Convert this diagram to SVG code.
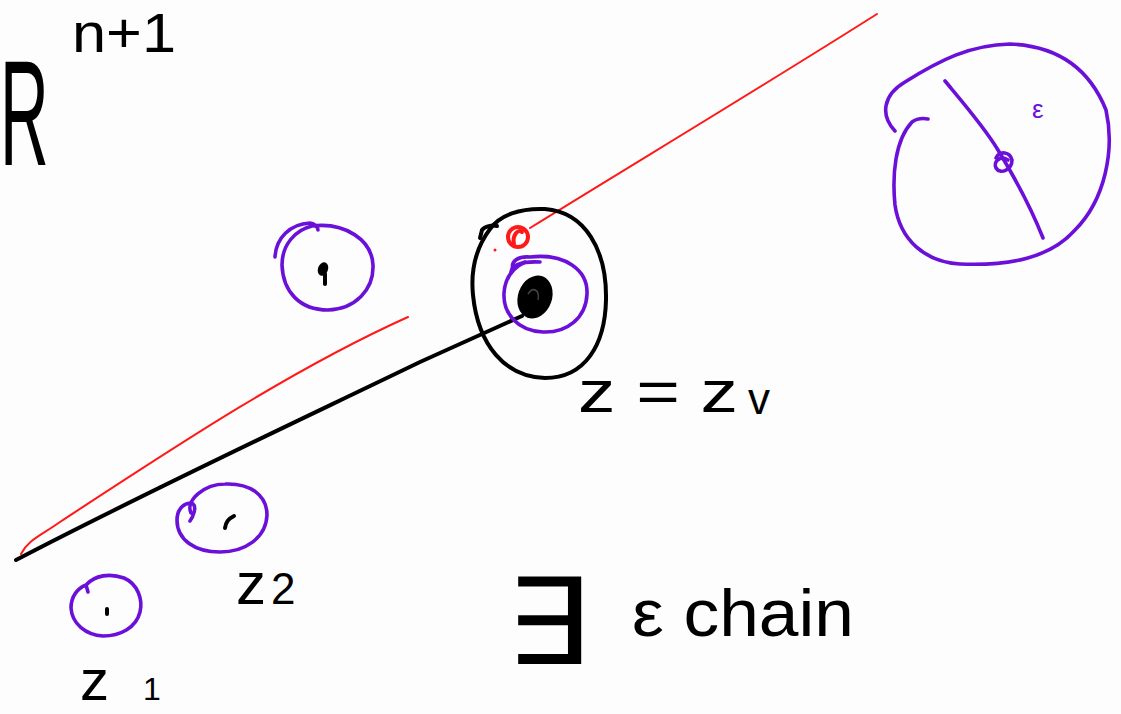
<svg xmlns="http://www.w3.org/2000/svg" width="1121" height="714" viewBox="0 0 1121 714">
<style>
.bg{fill:#fdfdfd}
.ink{fill:none;stroke:#000;stroke-width:4;stroke-linecap:round;stroke-linejoin:round}
.pur{fill:none;stroke:#6a10d8;stroke-width:3.6;stroke-linecap:round;stroke-linejoin:round}
.red{fill:none;stroke:#ff1a1a;stroke-width:2;stroke-linecap:round}
.redb{fill:none;stroke:#ff1a1a;stroke-width:4;stroke-linecap:round}
.dot{fill:#000}
.t{font-family:"Liberation Sans",Arial,sans-serif;fill:#000}
</style>
<rect class="bg" x="0" y="0" width="1121" height="714"/>

<g id="connectors">
  <path class="red" d="M530,228 C640,160 760,88 877,14"/>
  <path class="red" d="M21,554 C28,540 40,536 60,522 C170,450 290,370 408,317"/>
  <path class="ink" d="M16,560 C150,490 300,420 420,362 C460,344 495,328 522,316"/>
</g>

<g id="ball-zv">
  <path class="ink" d="M490,229 C500,215 520,208 545,209 C585,212 607,250 606,300 C605,345 585,378 545,378 C505,377 478,345 473,295 C470,265 478,245 490,229"/>
  <path class="ink" d="M480,238 L482,230 C485,226 492,225 497,226"/>
  <path class="pur" d="M513,270 C510,260 520,256 530,257 C565,253 588,270 587,294 C586,318 567,333 543,332 C518,331 503,314 504,293 C505,278 512,268 525,262"/>
  <path class="pur" d="M511,272 C512,266 520,261 540,262"/>
  <ellipse class="dot" cx="535" cy="297" rx="17" ry="22" transform="rotate(20 535 297)"/>
  <path d="M528,294 C533,286 540,290 538,300" fill="none" stroke="#444" stroke-width="1.5"/>
  <circle class="redb" cx="518" cy="237" r="10"/>
  <path class="redb" d="M514,244 C512,236 518,228 522,232"/>
  <circle cx="495" cy="250" r="1.5" fill="#ff1a1a"/>
  <text class="t" x="578" y="412" font-size="60" textLength="160" lengthAdjust="spacingAndGlyphs">z = z</text>
  <text class="t" x="748" y="414" font-size="44">v</text>
</g>

<g id="ball-a">
  <path class="pur" d="M312,226 C345,222 372,240 373,265 C374,290 355,309 328,310 C300,310 283,292 282,265 C282,245 295,230 312,226"/>
  <path class="pur" d="M275,257 C276,238 290,224 310,223 C314,223 318,227 318,230"/>
  <ellipse class="dot" cx="323" cy="269" rx="5" ry="7" transform="rotate(20 323 269)"/>
  <path class="ink" d="M325,274 L325,284" stroke-width="3"/>
</g>

<g id="ball-z2">
  <path class="pur" d="M191,513 C185,500 205,484 225,484 C250,483 267,495 267,515 C266,538 245,552 220,552 C195,552 177,540 177,520 C177,508 186,501 193,504 C197,507 193,517 190,521"/>
  <path class="ink" d="M225,528 C226,522 228,519 234,516" stroke-width="3.5"/>
  <text class="t" x="236" y="604" font-size="60">z</text>
  <text class="t" x="271" y="604" font-size="44">2</text>
</g>

<g id="ball-z1">
  <path class="pur" d="M86,585 C95,575 110,573 124,578 C138,584 143,600 140,612 C136,628 120,636 103,636 C86,635 72,624 71,608 C71,596 78,588 86,585 L88,592"/>
  <path class="ink" d="M107,609 L107,614" stroke-width="3"/>
  <text class="t" x="80" y="700" font-size="58">z</text>
  <text class="t" x="143" y="700" font-size="32">1</text>
</g>

<g id="ball-eps">
  <path class="pur" d="M895,131 C880,115 883,95 905,82 C940,60 970,45 1010,44 C1060,46 1090,70 1106,110 C1115,150 1105,200 1075,230 C1050,258 1010,266 960,264 C925,262 900,240 895,205 C892,175 895,140 912,122 C916,119 922,118 928,119"/>
  <path class="pur" d="M945,81 C965,105 985,128 998,150 C1015,178 1030,205 1043,238"/>
  <path class="pur" d="M996,158 C1000,150 1010,152 1012,160 C1012,170 1000,175 996,168 C993,162 1000,155 1008,160" stroke-width="2.5"/>
  <text x="1032" y="118" font-size="26" font-family="Liberation Sans,Arial,sans-serif" fill="#6a10d8">ε</text>
</g>

<g id="labels">
  <text class="t" x="0" y="165" font-size="150" transform="scale(0.45,1)">R</text>
  <text class="t" x="72" y="52" font-size="56" textLength="104" lengthAdjust="spacingAndGlyphs">n+1</text>
  <text class="t" x="505" y="664" font-size="120" textLength="85" lengthAdjust="spacingAndGlyphs">∃</text>
  <text class="t" x="632" y="636" font-size="66" textLength="222" lengthAdjust="spacingAndGlyphs">ε chain</text>
</g>
</svg>
